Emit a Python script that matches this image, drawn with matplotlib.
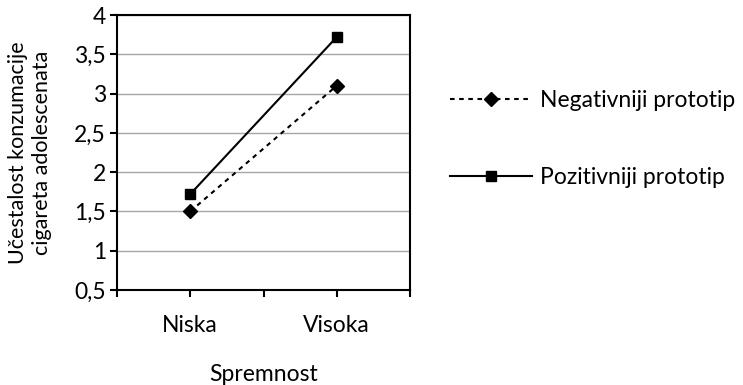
import matplotlib.pyplot as plt
from matplotlib.ticker import FuncFormatter

plt.rcParams['font.family'] = ['Lato', 'DejaVu Sans']

categories = ["Niska", "Visoka"]
negativniji = [1.50, 3.10]
pozitivniji = [1.72, 3.72]
series_names = ["Negativniji prototip", "Pozitivniji prototip"]

fs = 16.5

fig = plt.figure(figsize=(7.43, 3.85), dpi=100)
ax = fig.add_axes([117 / 743, 1 - 290 / 385, (410 - 117) / 743, (290 - 15) / 385])

x = list(range(len(categories)))
ax.plot(x, negativniji, color="black", lw=1.5, dashes=(2.2, 2.2),
        marker="D", markersize=7, label=series_names[0])
ax.plot(x, pozitivniji, color="black", lw=1.5,
        marker="s", markersize=7, label=series_names[1])

ax.set_xlim(-0.5, 1.5)
ax.set_ylim(0.5, 4)
ax.set_yticks([0.5, 1, 1.5, 2, 2.5, 3, 3.5, 4])
ax.yaxis.set_major_formatter(FuncFormatter(lambda v, p: f"{v:g}".replace(".", ",")))
ax.set_xticks([-0.5, 0, 0.5, 1, 1.5])
ax.set_xticklabels(["", categories[0], "", categories[1], ""])
ax.grid(axis="y", color="#a6a6a6", lw=1)
ax.set_axisbelow(True)

for s in ax.spines.values():
    s.set_linewidth(1.5)
ax.tick_params(direction="out", length=5, width=1.5, labelsize=fs, pad=3)
ax.tick_params(axis="x", pad=13)

ax.set_xlabel("Spremnost", fontsize=fs)
ax.xaxis.set_label_coords(0.5, -(364 - 290) / 275)
ax.set_ylabel("Učestalost konzumacije\ncigareta adolescenata", fontsize=15.5,
              linespacing=1.25)
ax.yaxis.set_label_coords((52 - 117) / 293, 0.5)

fig.legend(loc="center left", bbox_to_anchor=(429 / 743, 1 - 139 / 385),
           frameon=False, fontsize=fs, handlelength=3.6, labelspacing=2.45,
           handletextpad=0.35)

fig.savefig("out.png", dpi=100)
